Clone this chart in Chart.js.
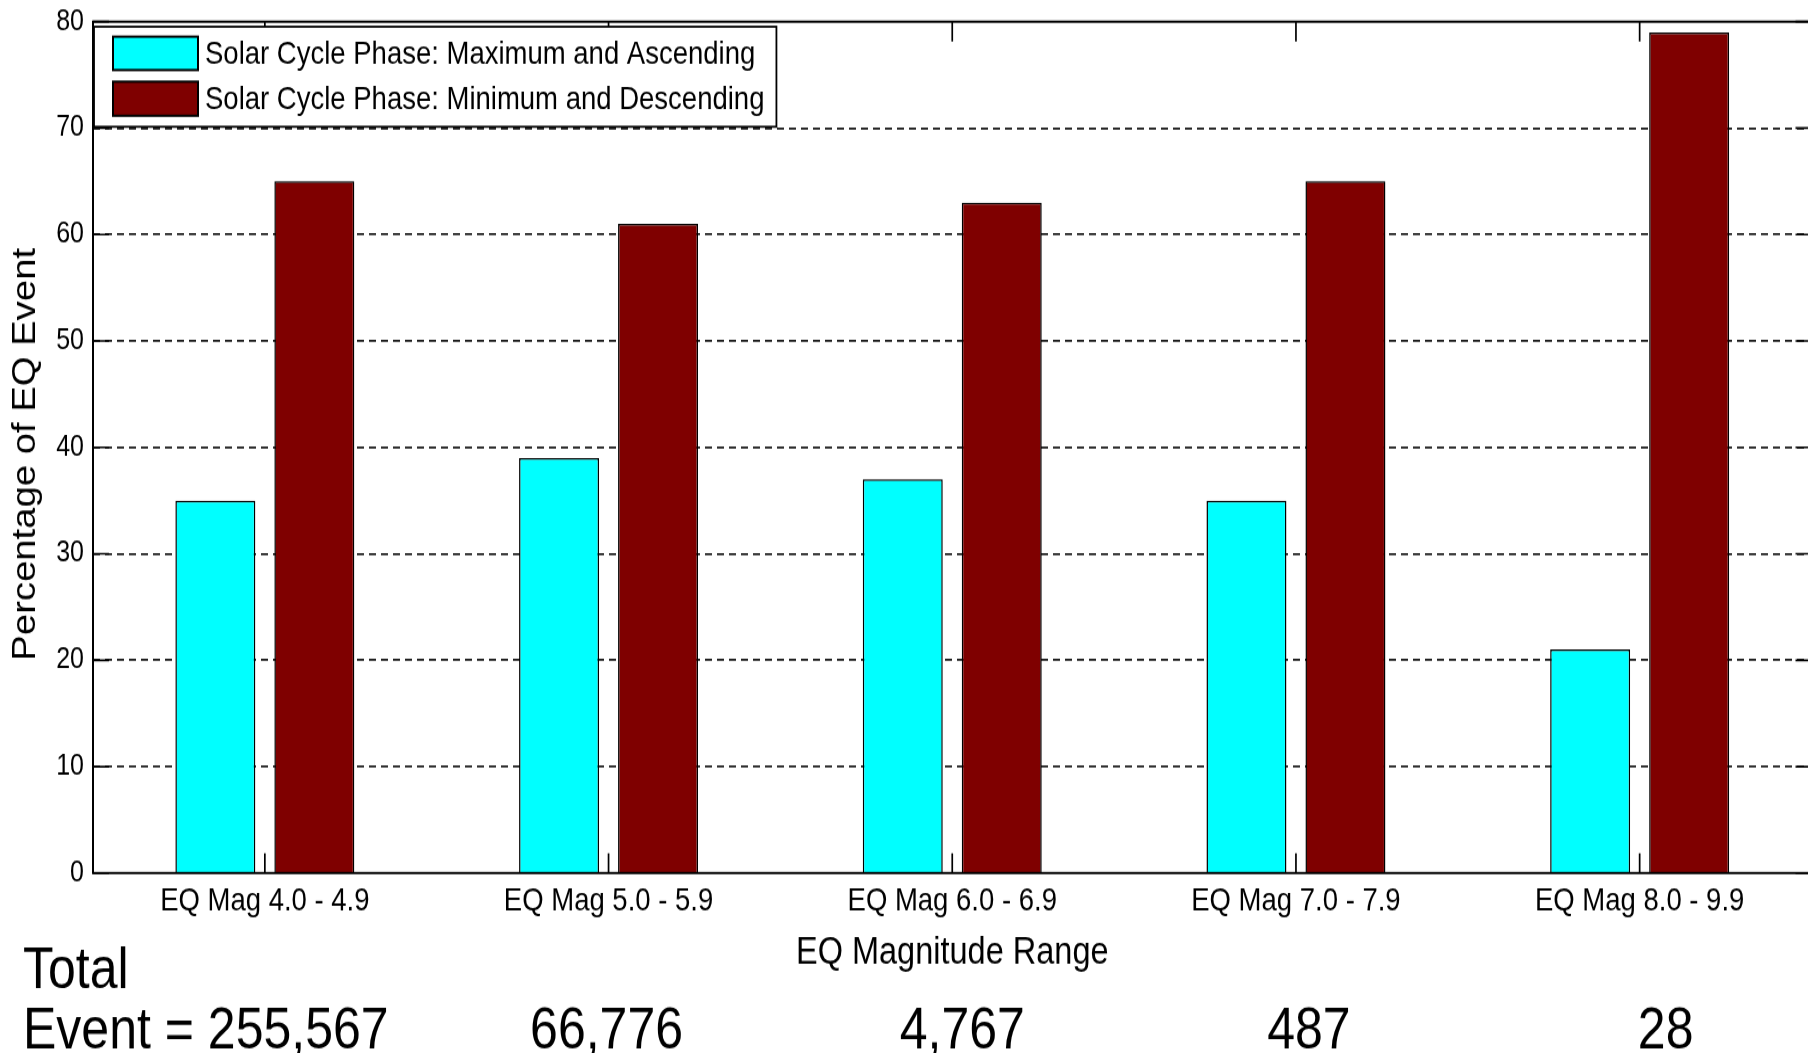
<!DOCTYPE html>
<html>
<head>
<meta charset="utf-8">
<script src="https://cdn.jsdelivr.net/npm/chart.js@4.4.1/dist/chart.umd.min.js"></script>
<style>
  html, body { margin: 0; padding: 0; background: #fff; overflow: hidden; }
  #wrap { width: 1808px; height: 1053px; overflow: hidden; position: relative; }
  /* the figure is drawn squat and stretched tall, like the source picture */
  #eq-chart { width: 1820px; height: 1053px; }
</style>
</head>
<body>
<div id="wrap"><canvas id="eq-chart" width="1820" height="908"></canvas></div>
<script>
// chart data
const categories = ["EQ Mag 4.0 - 4.9", "EQ Mag 5.0 - 5.9", "EQ Mag 6.0 - 6.9", "EQ Mag 7.0 - 7.9", "EQ Mag 8.0 - 9.9"];
const seriesNames = ["Solar Cycle Phase: Maximum and Ascending", "Solar Cycle Phase: Minimum and Descending"];
const maxAscending = [35, 39, 37, 35, 21];
const minDescending = [65, 61, 63, 65, 79];
const yTickValues = [0, 10, 20, 30, 40, 50, 60, 70, 80];
const totalEvents = ["255,567", "66,776", "4,767", "487", "28"];
const yTitle = 'Percentage of EQ Event';

const FONT = '"Liberation Sans", Arial, Helvetica, sans-serif';
Chart.defaults.font.family = FONT;
Chart.defaults.color = '#000';

// small hand nudges of the totals row (x, px)
const totalNudge = [0, -2, 10, 13, 26];

// box, inside tick marks (matlab look)
const matlabFrame = {
  id: 'matlabFrame',
  afterDatasetsDraw(chart) {
    const { ctx, chartArea: a, scales: { x, y } } = chart;
    ctx.save();
    ctx.strokeStyle = '#000';
    ctx.lineWidth = 1.7;
    ctx.beginPath();
    y.ticks.forEach(t => {
      const py = y.getPixelForValue(t.value);
      ctx.moveTo(a.left, py); ctx.lineTo(a.left + 16, py);
      ctx.moveTo(a.right, py); ctx.lineTo(a.right - 16, py);
    });
    categories.forEach((c, i) => {
      const px = x.getPixelForValue(i);
      ctx.moveTo(px, a.bottom); ctx.lineTo(px, a.bottom - 17);
      ctx.moveTo(px, a.top); ctx.lineTo(px, a.top + 17);
    });
    ctx.stroke();
    ctx.lineWidth = 2;
    ctx.strokeRect(a.left, a.top, a.right - a.left, a.bottom - a.top);

    // y axis title, sits a bit below the middle of the axis
    ctx.translate(26, (a.top + a.bottom) / 2 + 6);
    ctx.rotate(-Math.PI / 2);
    ctx.font = '33px ' + FONT;
    ctx.fillStyle = '#000';
    ctx.textAlign = 'center';
    ctx.textBaseline = 'middle';
    ctx.fillText(yTitle, 0, 0);
    ctx.restore();
  }
};

// legend box in the top left corner
const boxLegend = {
  id: 'boxLegend',
  afterDraw(chart) {
    const { ctx } = chart;
    const sets = chart.data.datasets;
    ctx.save();
    ctx.font = '27.5px ' + FONT;
    const textW = Math.max(...sets.map(d => ctx.measureText(d.label).width));
    const left = 94, top = 23, bottom = 109.3;
    const right = 205 + textW + 12;
    ctx.fillStyle = '#fff';
    ctx.fillRect(left, top, right - left, bottom - top);
    ctx.strokeStyle = '#000';
    ctx.lineWidth = 1.8;
    ctx.strokeRect(left, top, right - left, bottom - top);
    const rows = [[31.6, 60.4], [70.4, 99.8]];
    sets.forEach((d, i) => {
      const [y0, y1] = rows[i];
      ctx.fillStyle = d.backgroundColor;
      ctx.fillRect(113, y0, 85, y1 - y0);
      ctx.lineWidth = 2;
      ctx.strokeRect(113, y0, 85, y1 - y0);
      ctx.fillStyle = '#000';
      ctx.textAlign = 'left';
      ctx.textBaseline = 'middle';
      ctx.fillText(d.label, 205, (y0 + y1) / 2 + 1.5);
    });
    ctx.restore();
  }
};

// "Total Event =" row under the axis
const totalsRow = {
  id: 'totalsRow',
  afterDraw(chart) {
    const { ctx, scales: { x } } = chart;
    ctx.save();
    ctx.font = '50px ' + FONT;
    ctx.fillStyle = '#000';
    ctx.textBaseline = 'middle';
    ctx.textAlign = 'left';
    ctx.fillText('Total', 23, 838.5);
    ctx.fillText('Event = ' + totalEvents[0], 23, 890.2);
    ctx.textAlign = 'center';
    for (let i = 1; i < totalEvents.length; i++) {
      ctx.fillText(totalEvents[i], x.getPixelForValue(i) + totalNudge[i], 890.2);
    }
    ctx.restore();
  }
};

const canvas = document.getElementById('eq-chart');
const eqChart = new Chart(canvas.getContext('2d'), {
  type: 'bar',
  data: {
    labels: categories,
    datasets: [{
      label: seriesNames[0],
      data: maxAscending,
      backgroundColor: '#00ffff',
      borderColor: '#000',
      borderWidth: 1.5,
      categoryPercentage: 0.576,
      barPercentage: 0.808
    }, {
      label: seriesNames[1],
      data: minDescending,
      backgroundColor: '#7f0000',
      borderColor: '#000',
      borderWidth: 1.5,
      categoryPercentage: 0.576,
      barPercentage: 0.808
    }]
  },
  options: {
    responsive: false,
    animation: false,
    devicePixelRatio: 1,
    layout: { padding: { top: 18.7, right: 8.5, left: 0, bottom: 0 } },
    plugins: {
      legend: { display: false },
      tooltip: { enabled: false }
    },
    scales: {
      x: {
        grid: { display: false, drawTicks: false },
        border: { display: false },
        ticks: { color: '#000', font: { size: 27.5 }, padding: 8, maxRotation: 0, autoSkip: false },
        title: {
          display: true,
          text: 'EQ Magnitude Range',
          color: '#000',
          font: { size: 32.5 },
          padding: { top: 0, bottom: 66 }
        },
        afterFit(scale) { scale.height = 155.2; }
      },
      y: {
        min: 0,
        max: 80,
        afterBuildTicks(scale) { scale.ticks = yTickValues.map(v => ({ value: v })); },
        grid: {
          color: c => (c.tick && (c.tick.value === 0 || c.tick.value === 80)) ? 'rgba(0,0,0,0)' : '#1a1a1a',
          lineWidth: 1.8,
          drawTicks: false
        },
        border: { display: false, dash: [7, 5] },
        ticks: { color: '#000', font: { size: 25 }, padding: 9 },
        title: { display: false },
        afterFit(scale) {
          scale.width = 93;
          // keep the label overhang from pushing the plot down
          scale.paddingTop = 0;
          scale.paddingBottom = 0;
        }
      }
    }
  },
  plugins: [matlabFrame, boxLegend, totalsRow]
});
canvas.style.width = '1820px';
canvas.style.height = '1053px';
</script>
</body>
</html>
